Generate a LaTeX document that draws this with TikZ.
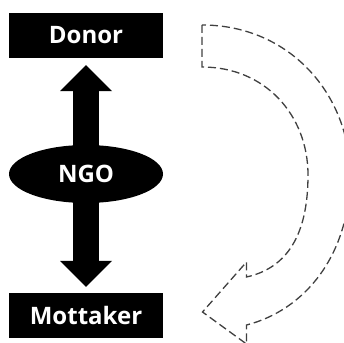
\documentclass[tikz,border=0pt]{standalone}
\usepackage{fontspec}
\setsansfont{Open Sans}
\usepackage{tikz}
\usetikzlibrary{arrows.meta, shapes.geometric}

\begin{document}
\begin{tikzpicture}[
  x=1pt, y=-1pt,
  label/.style={font=\sffamily\bfseries\fontsize{24}{28}\selectfont, text=white},
  party/.style={label, fill=black, minimum width=153.5pt, minimum height=45pt, inner sep=0pt},
  middle/.style={label, ellipse, fill=black, minimum width=154pt, minimum height=58pt, inner sep=0pt},
  fatarr/.style={line width=26pt, black,
                 {Triangle[length=26pt, width=52pt, line width=0pt]}-{Triangle[length=26pt, width=52pt, line width=0pt]}},
  flowarr/.style={draw=black!75, line width=1.3pt, dash pattern=on 8pt off 4pt, line join=miter},
]
\useasboundingbox (0,0) rectangle (344,342);

% --- the two parties ---
\node[party] (donor) at (86,35.5) {Donor};
\node[party] (mottaker) at (86,315.5) {Mottaker};

% --- both ways through the middle ---
\draw[fatarr, shorten <=7pt, shorten >=6pt] (donor) -- (mottaker);
\node[middle] (ngo) at (86,174) {NGO};

% --- the dashed round-trip arrow on the right, cut by the page edge ---
\begin{scope}
  \clip (0,0) rectangle (344,342);
  \draw[flowarr]
    (202,25) -- (202,67)
    .. controls (265,67) and (308,115) .. (308,175)
    .. controls (308,235) and (287,268) .. (246.5,277)
    -- (246.5,262) -- (202.5,312) -- (246.5,344) -- (246.5,325)
    .. controls (305,310) and (350,255) .. (350,175)
    .. controls (350,95) and (290,25) .. (202,25) -- cycle;
\end{scope}

\end{tikzpicture}
\end{document}
